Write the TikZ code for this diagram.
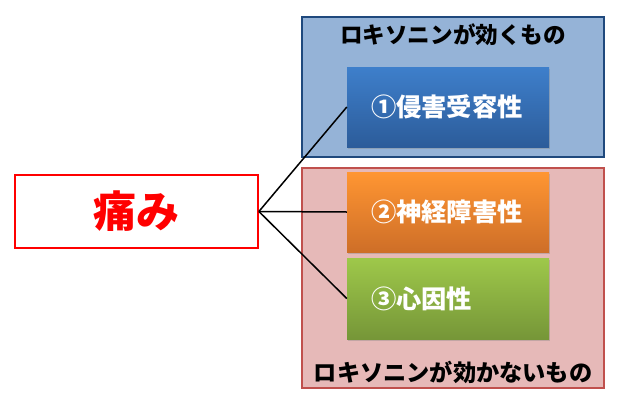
\documentclass[tikz,border=0pt]{standalone}
\usepackage{fontspec}
\newfontfamily\jp{Noto Sans CJK JP}
\usetikzlibrary{shadows}
\definecolor{bluefill}{RGB}{149,179,215}
\definecolor{blueline}{RGB}{31,73,125}
\definecolor{redfill}{RGB}{230,185,184}
\definecolor{redline}{RGB}{192,80,77}
\definecolor{btop}{RGB}{62,127,203}
\definecolor{bbot}{RGB}{44,92,154}
\definecolor{otop}{RGB}{255,150,50}
\definecolor{obot}{RGB}{206,110,40}
\definecolor{gtop}{RGB}{158,200,74}
\definecolor{gbot}{RGB}{118,150,56}
\definecolor{painred}{RGB}{255,0,0}
\tikzset{
  outerbox/.style={draw, line width=1.6pt, minimum width=302pt, inner sep=0pt},
  innerbox/.style={minimum height=80pt, inner xsep=24pt, inner ysep=0pt, text width=154pt, align=left,
     text=white, font=\jp\bfseries\fontsize{25.3}{27}\selectfont,
     drop shadow={shadow xshift=1pt, shadow yshift=-1.5pt, opacity=0.35}},
  header/.style={font=\jp\bfseries\fontsize{22.6}{25}\selectfont, text=black, inner sep=0pt},
  conn/.style={draw=black, line width=1.5pt}
}
\begin{document}
\begin{tikzpicture}[x=1pt,y=-1pt]
\useasboundingbox (0,0) rectangle (619,402);
\node[outerbox, fill=bluefill, draw=blueline, minimum height=140pt] (blueouter) at (453,87) {};
\node[outerbox, fill=redfill, draw=redline, minimum height=220pt] (redouter) at (453,278) {};
\node[header] (h1) at (453,35) {ロキソニンが効くもの};
\node[header, font=\jp\bfseries\fontsize{23.2}{25}\selectfont] (h2) at (453,372) {ロキソニンが効かないもの};
\node[draw=painred, line width=1.8pt, fill=white, minimum width=243pt, minimum height=73pt, inner sep=0pt,
      text=painred, font=\jp\bfseries\fontsize{43}{46}\selectfont] (pain) at (136.5,211.5) {痛み};
\node[innerbox, top color=btop, bottom color=bbot] (n1) at (448,107) {①侵害受容性};
\node[innerbox, top color=otop, bottom color=obot] (n2) at (448,212) {②神経障害性};
\node[innerbox, top color=gtop, bottom color=gbot, minimum height=81pt] (n3) at (448,298.5) {③心因性};
\draw[conn] (pain.east) -- (n1.west);
\draw[conn] (pain.east) -- (n2.west);
\draw[conn] (pain.east) -- (n3.west);
\end{tikzpicture}
\end{document}
